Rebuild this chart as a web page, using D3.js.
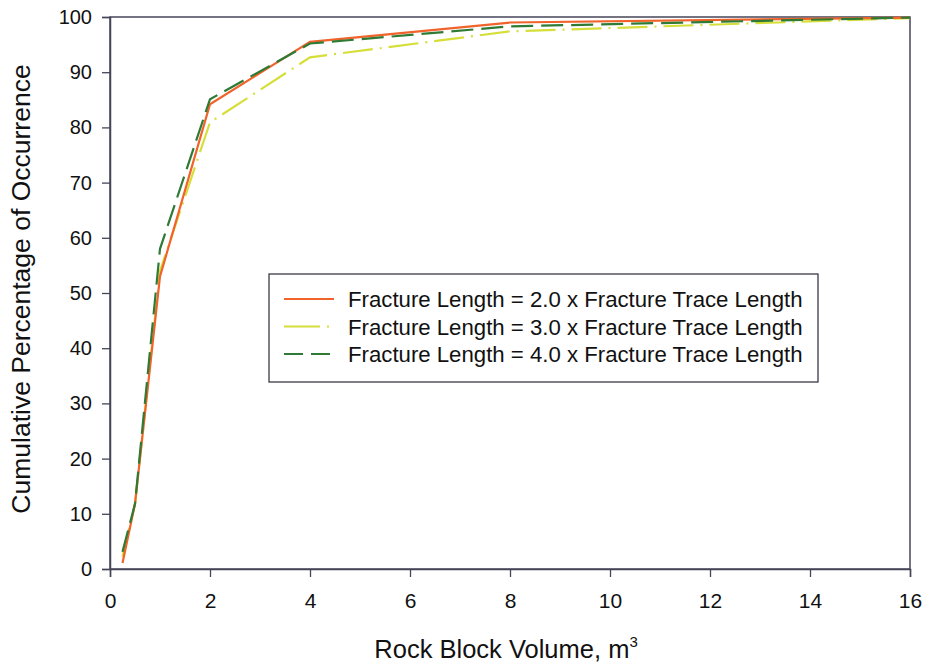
<!DOCTYPE html>
<html>
<head>
<meta charset="utf-8">
<script src="https://cdn.jsdelivr.net/npm/d3@7.9.0/dist/d3.min.js"></script>
<style>
  body { margin: 0; background: #fff; }
  svg { display: block; font-family: "Liberation Sans", Arial, sans-serif; }
</style>
</head>
<body>
<div id="chart"></div>
<script>
const volumes = [0.25, 0.5, 1, 2, 4, 8, 16];
const len2 = [1.1, 11.8, 53, 84.2, 95.5, 99.0, 99.9];
const len3 = [2.2, 11.8, 54, 80.9, 92.7, 97.4, 99.8];
const len4 = [3.1, 11.8, 58, 85.1, 95.2, 98.3, 99.9];
const seriesNames = [
  'Fracture Length = 2.0 x Fracture Trace Length',
  'Fracture Length = 3.0 x Fracture Trace Length',
  'Fracture Length = 4.0 x Fracture Trace Length',
];
const xTicks = [0, 2, 4, 6, 8, 10, 12, 14, 16];
const yTicks = [0, 10, 20, 30, 40, 50, 60, 70, 80, 90, 100];

const width = 926;
const height = 667;
const margin = { top: 17, right: 15, bottom: 98, left: 110 };

const series = [
  { name: seriesNames[0], values: len2, color: '#f0632a', dash: null },
  { name: seriesNames[1], values: len3, color: '#d6de3a', dash: '30,7,2,7' },
  { name: seriesNames[2], values: len4, color: '#2f7a34', dash: '22,8' },
];

const svg = d3
  .select('#chart')
  .append('svg')
  .attr('width', width)
  .attr('height', height);

const x = d3
  .scaleLinear()
  .domain([0, 16])
  .range([margin.left, width - margin.right - 1]);

const y = d3
  .scaleLinear()
  .domain([0, 100])
  .range([height - margin.bottom, margin.top]);

const axisColor = '#45455a';

// frame (top and right)
svg
  .append('rect')
  .attr('x', x(0))
  .attr('y', y(100))
  .attr('width', x(16) - x(0))
  .attr('height', y(0) - y(100))
  .attr('fill', 'none')
  .attr('stroke', axisColor)
  .attr('stroke-width', 1.5);

const xAxis = svg
  .append('g')
  .attr('transform', `translate(0, ${y(0)})`)
  .call(d3.axisBottom(x).tickValues(xTicks).tickSize(8).tickPadding(16));

const yAxis = svg
  .append('g')
  .attr('transform', `translate(${x(0)}, 0)`)
  .call(d3.axisLeft(y).tickValues(yTicks).tickSize(8).tickPadding(10));

[xAxis, yAxis].forEach((g) => {
  g.select('.domain').attr('stroke', axisColor).attr('stroke-width', 1.5);
  g.selectAll('.tick line').attr('stroke', axisColor).attr('stroke-width', 1.3);
  g.selectAll('.tick text').attr('fill', '#111').style('font-size', '20px');
});
xAxis.selectAll('.tick text').style('font-size', '21px');

const line = d3
  .line()
  .x((d) => x(d[0]))
  .y((d) => y(d[1]));

// draw yellow first, then orange, then green on top
[series[1], series[0], series[2]].forEach((s) => {
  svg
    .append('path')
    .datum(volumes.map((v, i) => [v, s.values[i]]))
    .attr('d', line)
    .attr('fill', 'none')
    .attr('stroke', s.color)
    .attr('stroke-width', 2.2)
    .attr('stroke-dasharray', s.dash);
});

// legend
const legend = svg.append('g');
legend
  .append('rect')
  .attr('x', 269)
  .attr('y', 274)
  .attr('width', 549)
  .attr('height', 108)
  .attr('fill', '#fff')
  .attr('stroke', '#3a3a48')
  .attr('stroke-width', 1.3);

series.forEach((s, i) => {
  const ly = 299 + i * 27.5;
  legend
    .append('line')
    .attr('x1', 284)
    .attr('x2', 334)
    .attr('y1', ly)
    .attr('y2', ly)
    .attr('stroke', s.color)
    .attr('stroke-width', 2)
    .attr('stroke-dasharray', i === 1 ? '36,7,2,7' : i === 2 ? '19,8' : null);
  legend
    .append('text')
    .attr('x', 348)
    .attr('y', ly + 8)
    .attr('fill', '#111')
    .style('font-size', '22.2px')
    .text(s.name);
});

// axis titles
const xTitle = svg
  .append('text')
  .attr('x', 506)
  .attr('y', 658)
  .attr('text-anchor', 'middle')
  .attr('fill', '#111')
  .style('font-size', '25.5px');
xTitle.append('tspan').text('Rock Block Volume, m');
xTitle
  .append('tspan')
  .attr('dy', -11)
  .style('font-size', '15px')
  .text('3');

svg
  .append('text')
  .attr('transform', `translate(30, 289) rotate(-90)`)
  .attr('text-anchor', 'middle')
  .attr('fill', '#111')
  .style('font-size', '26.5px')
  .text('Cumulative Percentage of Occurrence');
</script>
</body>
</html>
